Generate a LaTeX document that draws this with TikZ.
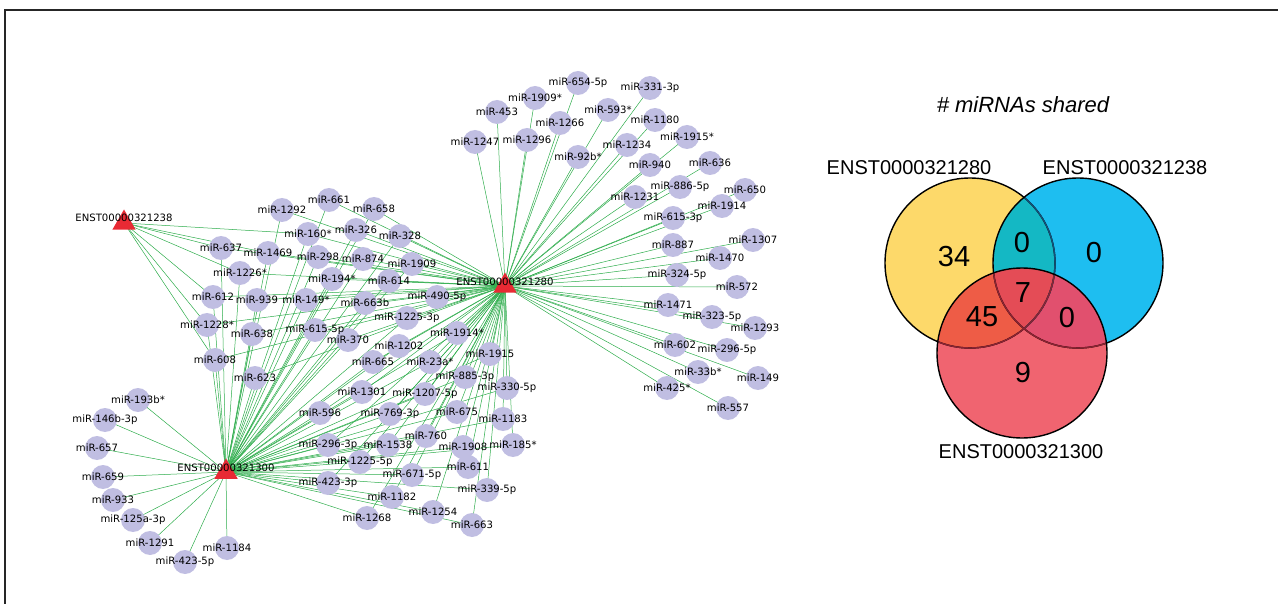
\documentclass[tikz,border=0pt]{standalone}
\usepackage{fontspec}
\setmainfont{DejaVu Sans}
\newfontfamily\vennfont{Liberation Sans}
\usetikzlibrary{shapes.geometric}
\pgfdeclarelayer{bg}\pgfdeclarelayer{fg}\pgfsetlayers{bg,main,fg}
\definecolor{edgegreen}{RGB}{45,172,75}
\definecolor{mirfill}{RGB}{192,190,226}
\definecolor{trired}{RGB}{232,42,52}
\definecolor{vy}{RGB}{253,217,106}
\definecolor{vb}{RGB}{30,190,240}
\definecolor{vr}{RGB}{240,100,112}
\definecolor{vyb}{RGB}{20,184,196}
\definecolor{vyr}{RGB}{238,92,70}
\definecolor{vbr}{RGB}{225,80,110}
\definecolor{vall}{RGB}{228,76,86}
\definecolor{vybline}{RGB}{20,80,120}
\definecolor{vrline}{RGB}{140,35,50}
\newcommand\mirnode[4]{\node[mirc] (#1) at (#2,#3) {};\begin{pgfonlayer}{fg}\node[lbl] at (#2,#3) {#4};\end{pgfonlayer}}
\def\midlist{m1292,m661,m658,m160,m326,m328,m1469,m298,m874,m1909,m637,m1226,m194,m614,m612,m939,m149s,m663b,m1228,m638,m6155,m12253,m370,m1202,m1914s,m608,m623,m665,m23a,m1915,m8853,m3305,m1301,m12075,m596,m7693,m675,m1183,m2963,m1538,m760,m1908,m185,m12255,m6715,m611,m4233,m3395,m1182,m1254,m663,m1268}
\def\rightlist{r6545,r1909s,r453,r3313,r593,r1266,r1180,r1247,r1296,r1915s,r1234,r92b,r636,r940,r8865,r650,r1231,r1914,r6153,r1307,r887,r1470,r3245,r572,r1471,r3235,r1293,r602,r2965,r33b,r149,r425,r557,m490}
\def\leftlist{l193b,l146b,l657,l659,l933,l125a,l1291,l4235,l1184}
\def\triplelist{m160,m1469,m637,m1226,m612,m1228,m608}
\begin{document}
\begin{tikzpicture}[x=1pt,y=-1pt,
  mirc/.style={circle,fill=mirfill,minimum size=24pt,inner sep=0pt},
  lbl/.style={font=\fontsize{10.1}{10}\selectfont,inner sep=0pt,text=black},
  tri/.style={regular polygon,regular polygon sides=3,fill=trired,minimum size=27pt,inner sep=0pt},
  edge/.style={draw=edgegreen,line width=0.5pt},
  vnum/.style={font=\vennfont\fontsize{29}{30}\selectfont,inner sep=0pt},
  vlab/.style={font=\vennfont\fontsize{20}{22}\selectfont,inner sep=0pt},
  vline/.style={line width=1.4pt}]
\useasboundingbox (0,0) rectangle (1278,604);
\draw[line width=1.3pt,black!85] (5,604) -- (5,10) -- (1278,10);

% target transcripts
\node[tri] (e238) at (124,223) {};
\node[tri] (e280) at (505,286) {};
\node[tri] (e300) at (226,472) {};
\begin{pgfonlayer}{fg}
\node[lbl] (t238) at (124,218) {ENST00000321238};
\node[lbl] (t280) at (505,282) {ENST00000321280};
\node[lbl] (t300) at (226,468) {ENST00000321300};
\end{pgfonlayer}

% shared miRNAs
\mirnode{m1292}{282}{210}{miR-1292}
\mirnode{m661}{329}{200}{miR-661}
\mirnode{m658}{374}{209}{miR-658}
\mirnode{m160}{308}{234}{miR-160*}
\mirnode{m326}{356}{230}{miR-326}
\mirnode{m328}{400}{236}{miR-328}
\mirnode{m1469}{268}{253}{miR-1469}
\mirnode{m298}{318}{257}{miR-298}
\mirnode{m874}{363}{259}{miR-874}
\mirnode{m1909}{412}{264}{miR-1909}
\mirnode{m637}{221}{248}{miR-637}
\mirnode{m1226}{240}{273}{miR-1226*}
\mirnode{m194}{332}{279}{miR-194*}
\mirnode{m614}{389}{281}{miR-614}
\mirnode{m612}{213}{297}{miR-612}
\mirnode{m939}{257}{300}{miR-939}
\mirnode{m149s}{306}{300}{miR-149*}
\mirnode{m663b}{365}{303}{miR-663b}
\mirnode{m490}{437}{297}{miR-490-5p}
\mirnode{m1228}{207}{325}{miR-1228*}
\mirnode{m638}{252}{334}{miR-638}
\mirnode{m6155}{315}{330}{miR-615-5p}
\mirnode{m12253}{407}{318}{miR-1225-3p}
\mirnode{m370}{348}{340}{miR-370}
\mirnode{m1202}{399}{346}{miR-1202}
\mirnode{m1914s}{457}{333}{miR-1914*}
\mirnode{m608}{215}{360}{miR-608}
\mirnode{m623}{255}{378}{miR-623}
\mirnode{m665}{373}{362}{miR-665}
\mirnode{m23a}{430}{362}{miR-23a*}
\mirnode{m1915}{490}{354}{miR-1915}
\mirnode{m8853}{465}{377}{miR-885-3p}
\mirnode{m3305}{507}{388}{miR-330-5p}
\mirnode{m1301}{362}{392}{miR-1301}
\mirnode{m12075}{425}{394}{miR-1207-5p}
\mirnode{m596}{320}{413}{miR-596}
\mirnode{m7693}{390}{414}{miR-769-3p}
\mirnode{m675}{457}{412}{miR-675}
\mirnode{m1183}{503}{419}{miR-1183}
\mirnode{m2963}{328}{445}{miR-296-3p}
\mirnode{m1538}{388}{445}{miR-1538}
\mirnode{m760}{426}{436}{miR-760}
\mirnode{m1908}{463}{447}{miR-1908}
\mirnode{m185}{513}{445}{miR-185*}
\mirnode{m12255}{360}{462}{miR-1225-5p}
\mirnode{m6715}{412}{475}{miR-671-5p}
\mirnode{m611}{468}{467}{miR-611}
\mirnode{m4233}{328}{483}{miR-423-3p}
\mirnode{m3395}{487}{490}{miR-339-5p}
\mirnode{m1182}{392}{497}{miR-1182}
\mirnode{m1254}{433}{512}{miR-1254}
\mirnode{m663}{472}{525}{miR-663}
\mirnode{m1268}{367}{518}{miR-1268}

% ENST00000321300 only
\mirnode{l193b}{138}{400}{miR-193b*}
\mirnode{l146b}{105}{420}{miR-146b-3p}
\mirnode{l657}{97}{448}{miR-657}
\mirnode{l659}{103}{477}{miR-659}
\mirnode{l933}{113}{500}{miR-933}
\mirnode{l125a}{133}{520}{miR-125a-3p}
\mirnode{l1291}{150}{543}{miR-1291}
\mirnode{l4235}{185}{562}{miR-423-5p}
\mirnode{l1184}{227}{548}{miR-1184}

% ENST00000321280 only
\mirnode{r6545}{578}{83}{miR-654-5p}
\mirnode{r1909s}{535}{98}{miR-1909*}
\mirnode{r453}{497}{112}{miR-453}
\mirnode{r3313}{650}{88}{miR-331-3p}
\mirnode{r593}{608}{110}{miR-593*}
\mirnode{r1266}{560}{123}{miR-1266}
\mirnode{r1180}{655}{120}{miR-1180}
\mirnode{r1247}{475}{142}{miR-1247}
\mirnode{r1296}{527}{140}{miR-1296}
\mirnode{r1915s}{687}{137}{miR-1915*}
\mirnode{r1234}{627}{145}{miR-1234}
\mirnode{r92b}{578}{157}{miR-92b*}
\mirnode{r636}{710}{163}{miR-636}
\mirnode{r940}{650}{165}{miR-940}
\mirnode{r8865}{680}{187}{miR-886-5p}
\mirnode{r650}{745}{190}{miR-650}
\mirnode{r1231}{635}{197}{miR-1231}
\mirnode{r1914}{722}{206}{miR-1914}
\mirnode{r6153}{673}{218}{miR-615-3p}
\mirnode{r1307}{753}{240}{miR-1307}
\mirnode{r887}{673}{245}{miR-887}
\mirnode{r1470}{720}{258}{miR-1470}
\mirnode{r3245}{677}{275}{miR-324-5p}
\mirnode{r572}{737}{287}{miR-572}
\mirnode{r1471}{668}{305}{miR-1471}
\mirnode{r3235}{712}{317}{miR-323-5p}
\mirnode{r1293}{755}{328}{miR-1293}
\mirnode{r602}{675}{345}{miR-602}
\mirnode{r2965}{727}{350}{miR-296-5p}
\mirnode{r33b}{698}{372}{miR-33b*}
\mirnode{r149}{758}{378}{miR-149}
\mirnode{r425}{667}{388}{miR-425*}
\mirnode{r557}{728}{408}{miR-557}

% interactions
\begin{pgfonlayer}{bg}
\foreach \n in \midlist {\draw[edge] (e280.center) -- (\n.center); \draw[edge] (e300.center) -- (\n.center);}
\foreach \n in \rightlist {\draw[edge] (e280.center) -- (\n.center);}
\foreach \n in \leftlist {\draw[edge] (e300.center) -- (\n.center);}
\foreach \n in \triplelist {\draw[edge] (e238.center) -- (\n.center);}
\end{pgfonlayer}

% Venn diagram
\coordinate (Y) at (970,263);
\coordinate (B) at (1078,263);
\coordinate (R) at (1022,353);
\fill[vy] (Y) circle[radius=85pt];
\fill[vb] (B) circle[radius=85pt];
\fill[vr] (R) circle[radius=85pt];
\begin{scope}\clip (Y) circle[radius=85pt]; \fill[vyb] (B) circle[radius=85pt]; \fill[vyr] (R) circle[radius=85pt]; \end{scope}
\begin{scope}\clip (B) circle[radius=85pt]; \fill[vbr] (R) circle[radius=85pt]; \end{scope}
\begin{scope}\clip (Y) circle[radius=85pt]; \clip (B) circle[radius=85pt]; \fill[vall] (R) circle[radius=85pt]; \end{scope}
\draw[vline] (Y) circle[radius=85pt];
\begin{scope}\clip (B) circle[radius=85pt]; \draw[vline,vybline] (Y) circle[radius=85pt]; \end{scope}
\draw[vline] (B) circle[radius=85pt];
\begin{scope}\clip (R) circle[radius=85pt]; \draw[vline,vrline] (Y) circle[radius=85pt]; \draw[vline,vrline] (B) circle[radius=85pt]; \end{scope}
\draw[vline] (R) circle[radius=85pt];

\node[font=\vennfont\itshape\fontsize{22}{24}\selectfont,inner sep=0pt] (title) at (1023,105) {\# miRNAs shared};
\node[vlab] (vl280) at (909,168) {ENST0000321280};
\node[vlab] (vl238) at (1125,168) {ENST0000321238};
\node[vlab] (vl300) at (1021,452) {ENST0000321300};
\node[vnum] (n34) at (954,257) {34};
\node[vnum] (nyb) at (1022,243) {0};
\node[vnum] (nb) at (1094,253) {0};
\node[vnum] (nall) at (1023,293) {7};
\node[vnum] (n45) at (982,317) {45};
\node[vnum] (nbr) at (1067,318) {0};
\node[vnum] (n9) at (1023,373) {9};
\end{tikzpicture}
\end{document}
